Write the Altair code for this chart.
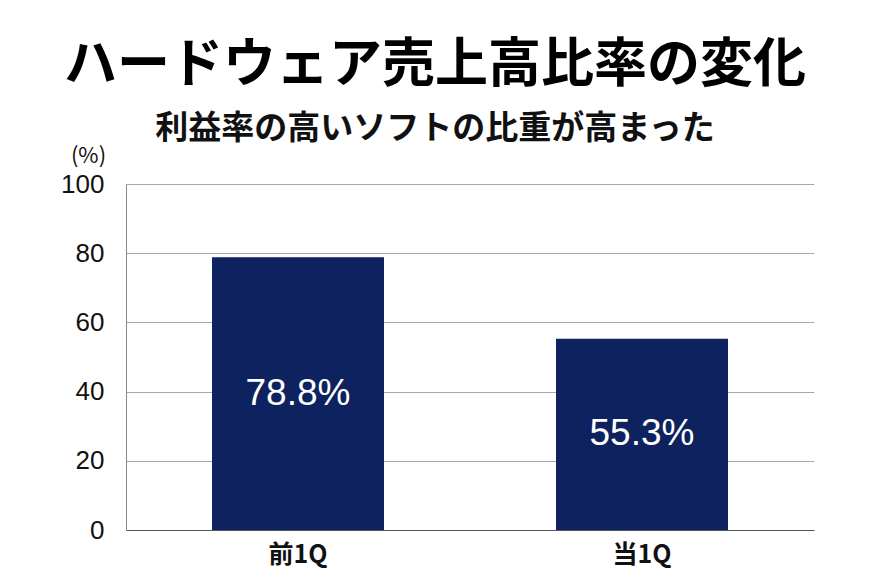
import altair as alt
import pandas as pd

# data
periods = ["前1Q", "当1Q"]
hw_ratio = [78.8, 55.3]
value_labels = ["78.8%", "55.3%"]

source = pd.DataFrame({
    "period": periods,
    "ratio": hw_ratio,
    "half": [v / 2 for v in hw_ratio],
    "label": value_labels,
})

JP_FONT = "Noto Sans CJK JP"
NAVY = "#0d225e"

y_axis = alt.Axis(
    values=[0, 20, 40, 60, 80, 100],
    title="(%)",
    titleAngle=0,
    titleAlign="center",
    titleBaseline="bottom",
    titleX=-38,
    titleY=-17,
    titleFont=JP_FONT,
    titleFontSize=22,
    titleFontWeight="normal",
    titleColor="#111111",
    labelFont="Liberation Sans",
    labelFontSize=26,
    labelColor="#111111",
    labelPadding=22,
    ticks=False,
    domainColor="#888888",
    gridColor="#a8a8a8",
    gridWidth=1,
)

base = alt.Chart(source).encode(
    x=alt.X(
        "period:N",
        sort=periods,
        scale=alt.Scale(paddingInner=0.5, paddingOuter=0.25),
        axis=alt.Axis(
            title=None,
            labelAngle=0,
            labelFont=JP_FONT,
            labelFontWeight="bold",
            labelFontSize=25,
            labelColor="#111111",
            labelPadding=12,
            ticks=False,
            domainColor="#555555",
            domainWidth=1.2,
        ),
    ),
)

bars = base.mark_bar(color=NAVY).encode(
    y=alt.Y("ratio:Q", scale=alt.Scale(domain=[0, 100]), axis=y_axis),
)

labels = base.mark_text(
    color="white",
    font="Liberation Sans",
    fontSize=37,
    baseline="middle",
).encode(
    y=alt.Y("half:Q", axis=y_axis),
    text="label:N",
)

chart = alt.layer(bars, labels).properties(
    width=688,
    height=346,
    background="white",
    autosize=alt.AutoSizeParams(type="none"),
    padding={"left": 118, "top": 176, "right": 40, "bottom": 40},
    title=alt.TitleParams(
        text="ハードウェア売上高比率の変化",
        subtitle="利益率の高いソフトの比重が高まった",
        font=JP_FONT,
        fontSize=53,
        fontWeight="bold",
        color="#000000",
        subtitleFont=JP_FONT,
        subtitleFontSize=33,
        subtitleFontWeight="bold",
        subtitleColor="#111111",
        subtitlePadding=20,
        anchor="middle",
        frame="group",
        dx=-35,
        offset=-2,
    ),
).configure_view(
    stroke=None
)

chart.save("out.html", embed_options={"renderer": "svg", "actions": False})
